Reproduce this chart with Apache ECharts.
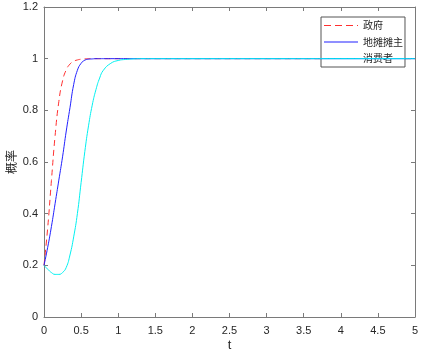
<!DOCTYPE html>
<html>
<head>
<meta charset="utf-8">
<script src="https://cdn.jsdelivr.net/npm/echarts@6/dist/echarts.min.js"></script>
<style>
  html, body { margin: 0; padding: 0; background: #fff; }
  #chart { width: 425px; height: 358px; }
</style>
</head>
<body>
<div id="chart"></div>
<script>
// time points (t) and probabilities
const tVals = [0, 0.05, 0.1, 0.15, 0.2, 0.25, 0.3, 0.35, 0.4, 0.45, 0.5, 0.55, 0.6, 0.65, 0.7, 0.75, 0.8, 0.9, 1.0, 1.1, 1.2, 1.3, 1.5, 2, 3, 4, 5];
const govVals = [0.2, 0.346, 0.528, 0.703, 0.834, 0.914, 0.957, 0.979, 0.99, 0.995, 0.998, 0.999, 1, 1, 1, 1, 1, 1, 1, 1, 1, 1, 1, 1, 1, 1, 1];
const vendorVals = [0.2, 0.27, 0.35, 0.44, 0.53, 0.62, 0.72, 0.81, 0.9, 0.955, 0.982, 0.994, 0.998, 0.999, 1, 1, 1, 1, 1, 1, 1, 1, 1, 1, 1, 1, 1];
const consumerVals = [0.2, 0.185, 0.172, 0.165, 0.165, 0.172, 0.192, 0.24, 0.31, 0.4, 0.52, 0.64, 0.74, 0.82, 0.88, 0.925, 0.955, 0.982, 0.993, 0.997, 0.999, 1, 1, 1, 1, 1, 1];
const seriesNames = ['政府', '地摊摊主', '消费者'];
const seriesColors = ['#ff3030', '#2020ff', '#00f0f0'];

const axisColor = '#7a7a7a';
const labelColor = '#262626';
const pairs = (ys) => tVals.map((t, i) => [t, ys[i]]);

// legend icons: thin line, dashed for the first one
const solidIcon = 'path://M0,0h34v1h-34z';
const dashedIcon = 'path://M0,0h7v1h-7zM11,0h7v1h-7zM22,0h7v1h-7zM33,0h1v1h-1z';

const myChart = echarts.init(document.getElementById('chart'));

const frameAxis = {
  type: 'value',
  axisLine: { show: true, onZero: false, lineStyle: { color: axisColor, width: 1 } },
  axisTick: { show: true, inside: true, length: 4, lineStyle: { color: axisColor } },
  splitLine: { show: false }
};

const option = {
  animation: false,
  textStyle: { fontFamily: 'Liberation Sans, Arial, sans-serif' },
  grid: { left: 44, right: 10, top: 7, bottom: 41, containLabel: false, outerBoundsMode: 'none' },
  xAxis: [
    {
      ...frameAxis,
      min: 0, max: 5, interval: 0.5,
      name: 't',
      nameLocation: 'middle',
      nameGap: 22,
      nameMoveOverlap: false,
      nameTextStyle: { color: labelColor, fontSize: 13 },
      axisLabel: { color: labelColor, fontSize: 11, margin: 8 }
    },
    {
      ...frameAxis,
      position: 'top',
      min: 0, max: 5, interval: 0.5,
      axisLabel: { show: false }
    }
  ],
  yAxis: [
    {
      ...frameAxis,
      min: 0, max: 1.2, interval: 0.2,
      name: '概率',
      nameLocation: 'middle',
      nameGap: 27,
      nameMoveOverlap: false,
      nameRotate: 90,
      nameTextStyle: { color: labelColor, fontSize: 12, fontFamily: 'Noto Sans CJK SC' },
      axisLabel: {
        color: labelColor, fontSize: 11, margin: 6,
        formatter: (v) => (Math.abs(v - Math.round(v)) < 1e-9 ? String(Math.round(v)) : v.toFixed(1))
      }
    },
    {
      ...frameAxis,
      position: 'right',
      min: 0, max: 1.2, interval: 0.2,
      axisLabel: { show: false }
    }
  ],
  legend: {
    orient: 'vertical',
    left: 321,
    top: 17,
    padding: [1.5, 2, 1.5, 3],
    itemWidth: 34,
    itemHeight: 1,
    itemGap: 2.5,
    backgroundColor: '#fff',
    borderColor: '#555',
    borderWidth: 1,
    borderRadius: 0,
    textStyle: { color: labelColor, fontSize: 10, lineHeight: 14, fontFamily: 'Noto Sans CJK SC' },
    data: [
      { name: seriesNames[0], icon: dashedIcon, itemStyle: { color: seriesColors[0] } },
      { name: seriesNames[1], icon: solidIcon, itemStyle: { color: seriesColors[1] } },
      { name: seriesNames[2], icon: solidIcon, itemStyle: { color: seriesColors[2] } }
    ]
  },
  series: [
    {
      name: seriesNames[0],
      type: 'line',
      data: pairs(govVals),
      symbol: 'none',
      smooth: 0.5,
      lineStyle: { color: seriesColors[0], width: 1, type: [6, 4] },
      itemStyle: { color: seriesColors[0] },
      z: 3
    },
    {
      name: seriesNames[1],
      type: 'line',
      data: pairs(vendorVals),
      symbol: 'none',
      smooth: 0.5,
      lineStyle: { color: seriesColors[1], width: 1 },
      itemStyle: { color: seriesColors[1] },
      z: 4
    },
    {
      name: seriesNames[2],
      type: 'line',
      data: pairs(consumerVals),
      symbol: 'none',
      smooth: 0.5,
      lineStyle: { color: seriesColors[2], width: 1 },
      itemStyle: { color: seriesColors[2] },
      z: 5
    }
  ]
};

myChart.setOption(option);
</script>
</body>
</html>
